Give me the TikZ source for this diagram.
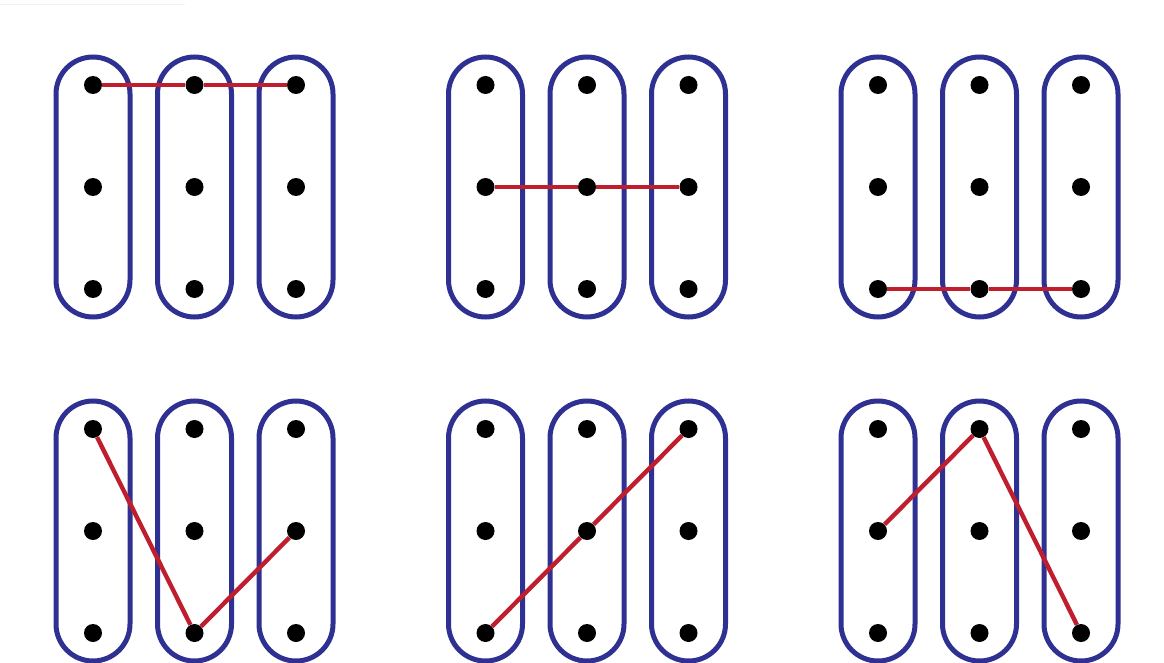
\documentclass[tikz,border=0pt]{standalone}
\definecolor{capblue}{RGB}{46,49,146}
\definecolor{linered}{RGB}{190,30,45}
\begin{document}
\begin{tikzpicture}[x=1pt,y=-1pt,
  capsule/.style={draw=capblue,line width=5pt,rounded corners=37pt},
  dot/.style={circle,fill=black,inner sep=0pt,minimum size=18pt},
  link/.style={draw=linered,line width=4.4pt}]
\useasboundingbox (0,0) rectangle (1164,663);
\draw[black!5,line width=1pt] (0,5) -- (185,5);
% panels: index, x of first column, y of first row
\foreach \p/\px/\py in {1/93/85,2/485.5/85,3/878/85,4/93/429,5/485.5/429,6/878/429}{
  \foreach \c in {0,1,2}{
    \pgfmathsetmacro\cx{\px+101.5*\c}
    \draw[capsule] (\cx-37,\py-28) rectangle (\cx+37,\py+232);
  }
  \foreach \c in {1,2,3}{
    \foreach \r in {1,2,3}{
      \pgfmathsetmacro\cx{\px+101.5*(\c-1)}
      \pgfmathsetmacro\ry{\py+102*(\r-1)}
      \node[dot] (n\p-\c-\r) at (\cx,\ry) {};
    }
  }
}
\draw[link] (n1-1-1) -- (n1-2-1) -- (n1-3-1);
\draw[link] (n2-1-2) -- (n2-2-2) -- (n2-3-2);
\draw[link] (n3-1-3) -- (n3-2-3) -- (n3-3-3);
\draw[link] (n4-1-1) -- (n4-2-3) -- (n4-3-2);
\draw[link] (n5-1-3) -- (n5-2-2) -- (n5-3-1);
\draw[link] (n6-1-2) -- (n6-2-1) -- (n6-3-3);
\end{tikzpicture}
\end{document}
